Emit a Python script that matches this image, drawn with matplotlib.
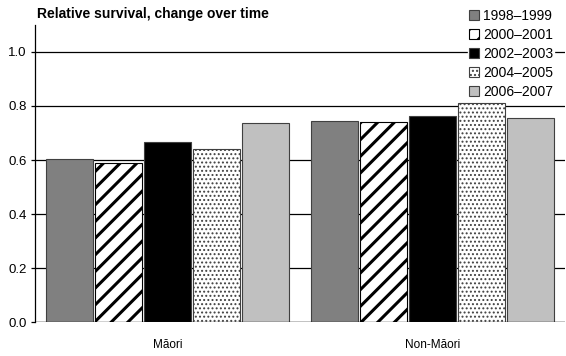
import matplotlib
matplotlib.use("Agg")
from matplotlib import pyplot as plt
import numpy as np

groups = ["Māori", "Non-Māori"]
periods = ["1998–1999", "2000–2001", "2002–2003", "2004–2005", "2006–2007"]
maori = [0.603, 0.588, 0.666, 0.640, 0.738]
non_maori = [0.744, 0.741, 0.763, 0.812, 0.754]

FACES = ["#808080", "white", "black", "white", "#c0c0c0"]
EDGES = ["#404040", "black", "#404040", "#404040", "#404040"]
HATCHES = [None, "//", None, "....", None]
HATCH_LW = [1.0, 2.2, 1.0, 0.9, 1.0]

plt.rcParams["font.family"] = "Liberation Sans"

fig = plt.figure(figsize=(5.66, 3.56), dpi=100)
ax = fig.add_axes([0.062, 0.095, 0.936, 0.835])

x = np.arange(len(groups))
pitch = 0.185
width = 0.175
for i, period in enumerate(periods):
    vals = [maori[i], non_maori[i]]
    plt.rcParams["hatch.linewidth"] = HATCH_LW[i]
    bars = ax.bar(x + (i - 2) * pitch, vals, width, color=FACES[i], hatch=HATCHES[i],
                  edgecolor=EDGES[i], linewidth=0.8, label=period, zorder=3)
    for b in bars:
        if hasattr(b, "set_hatch_linewidth"):
            b.set_hatch_linewidth(HATCH_LW[i])

ax.set_ylim(0, 1.1)
ax.set_xlim(-0.5, 1.5)
ax.set_yticks([0.0, 0.2, 0.4, 0.6, 0.8, 1.0])
ax.set_yticklabels(["0.0", "0.2", "0.4", "0.6", "0.8", "1.0"])
ax.yaxis.grid(True, color="black", linewidth=0.9, zorder=0)
ax.set_axisbelow(True)
ax.set_xticks(x)
ax.set_xticklabels(groups)
ax.tick_params(axis="x", length=0, labelsize=8.5, pad=12)
ax.tick_params(axis="y", length=3, width=0.9, labelsize=9.5, pad=3)
for s in ["top", "right", "bottom"]:
    ax.spines[s].set_visible(False)
ax.spines["left"].set_linewidth(0.9)
ax.axhline(0, color="black", linewidth=0.9, zorder=4)

fig.text(0.065, 0.962, "Relative survival, change over time", fontsize=10,
         fontweight="bold", va="center")

handles, labels = ax.get_legend_handles_labels()
leg = fig.legend(handles, labels, loc="upper left", bbox_to_anchor=(0.826, 0.979),
                 frameon=True, fontsize=10, handlelength=0.75, handleheight=0.75,
                 handletextpad=0.25, labelspacing=0.36, borderpad=0.1,
                 borderaxespad=0, fancybox=False)
leg.get_frame().set_edgecolor("white")
leg.get_frame().set_facecolor("white")
leg.get_frame().set_alpha(1)
leg.set_zorder(10)

fig.savefig("out.png", dpi=100)
